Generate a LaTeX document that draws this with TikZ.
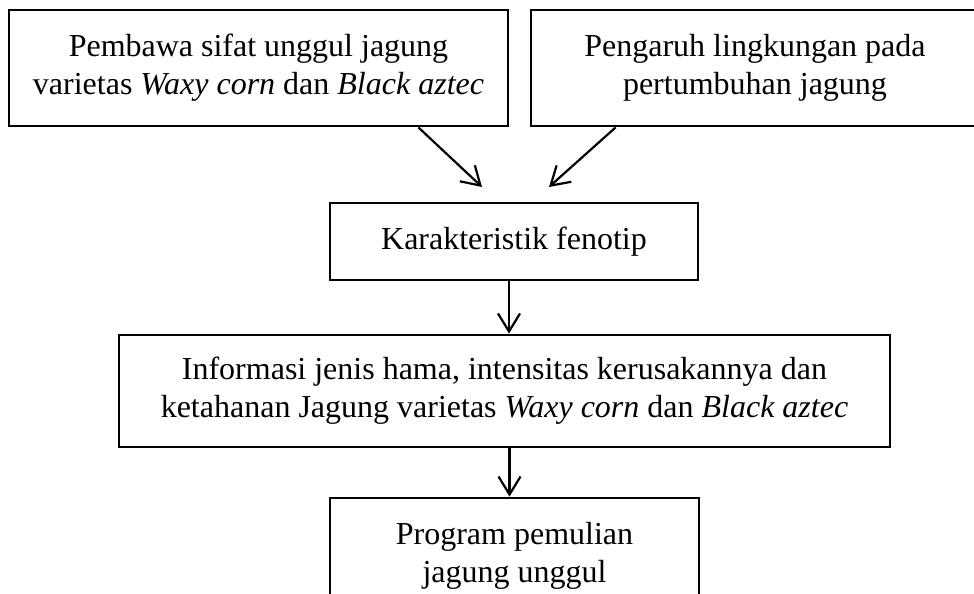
\documentclass[tikz,border=0pt]{standalone}
\usepackage{fontspec}
\setmainfont{Liberation Serif}
\usetikzlibrary{arrows.meta}

\begin{document}
\begin{tikzpicture}[x=0.5pt, y=-0.5pt, line width=1.4pt,
    kotak/.style={draw, align=center, inner sep=0pt, font=\fontsize{16}{19}\selectfont},
    panah/.style={line width=1.1pt, -{Straight Barb[length=9pt, width=11pt]}}]
    \useasboundingbox (0,0) rectangle (974,594);

    \node[kotak, minimum width=249.5pt, minimum height=58pt] (sifat) at (258.5,68)
        {Pembawa sifat unggul jagung\\ varietas \textit{Waxy corn} dan \textit{Black aztec}};
    \node[kotak, minimum width=224pt, minimum height=58pt] (lingkungan) at (755,68)
        {Pengaruh lingkungan pada\\ pertumbuhan jagung};
    \node[kotak, minimum width=184pt, minimum height=38.5pt] (fenotip) at (514,241.5)
        {Karakteristik fenotip};
    \node[kotak, minimum width=385.5pt, minimum height=56pt] (informasi) at (504.5,391)
        {Informasi jenis hama, intensitas kerusakannya dan\\ ketahanan Jagung varietas \textit{Waxy corn} dan \textit{Black aztec}};
    \node[kotak, minimum width=184.5pt, minimum height=58pt] (program) at (514.5,556)
        {Program pemulian\\ jagung unggul};

    \coordinate (ujungA) at (482,187);
    \coordinate (ujungB) at (549,187);

    \draw[panah] ([xshift=-45.5pt]sifat.south east) -- (ujungA);
    \draw[panah] ([xshift=43pt]lingkungan.south west) -- (ujungB);
    \draw[panah] ([xshift=-2.5pt]fenotip.south) -- ([xshift=-2.5pt]fenotip.south |- informasi.north);
    \draw[panah] ([xshift=2.5pt]informasi.south) -- ([xshift=2.5pt]informasi.south |- program.north);
\end{tikzpicture}
\end{document}
